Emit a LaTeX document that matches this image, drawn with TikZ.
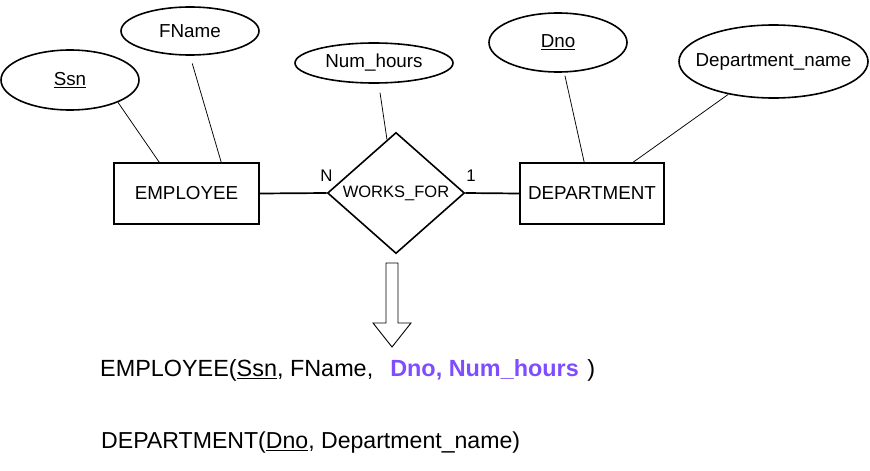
\documentclass[tikz,border=0pt]{standalone}
\usepackage{fontspec}
\setmainfont{Liberation Sans}
\usetikzlibrary{shapes.geometric,calc}
\definecolor{hl}{HTML}{7F4DFF}
\newcommand\nowd[1]{\makebox[0pt]{#1}}
\tikzset{
  lbl/.style={font=\fontsize{18.8}{22}\selectfont, inner sep=0pt},
  attrib/.style={draw, ellipse, line width=1.6pt, lbl},
  entity/.style={draw, rectangle, line width=1.6pt, lbl, minimum width=145pt, minimum height=61pt},
  relship/.style={draw, diamond, line width=1.6pt, inner sep=0pt, font=\fontsize{16.5}{19}\selectfont, minimum width=137pt, minimum height=120pt},
  attrline/.style={line width=0.75pt},
  relline/.style={line width=1.7pt},
  card/.style={font=\fontsize{16.8}{19}\selectfont, inner sep=0pt},
  schema/.style={font=\fontsize{23.4}{27}\selectfont, inner sep=0pt, anchor=base west}
}
\begin{document}
\begin{tikzpicture}[x=1pt,y=-1pt]
\useasboundingbox (0,0) rectangle (870,471);
% attributes
\node[attrib, minimum width=138pt, minimum height=60pt] (ssn) at (70,80) {\nowd{\underline{Ssn}}};
\node[attrib, minimum width=138pt, minimum height=48pt] (fname) at (190,31) {\nowd{FName}};
\node[attrib, minimum width=158pt, minimum height=40pt] (numh) at (374,63) {\nowd{Num\_hours}};
\node[attrib, minimum width=138pt, minimum height=59pt] (dno) at (558,42.5) {\nowd{\underline{Dno}}};
\node[attrib, minimum width=189pt, minimum height=73pt] (dname) at (773.5,61.5) {\nowd{Department\_name}};
% entities and relationship
\node[entity] (emp) at (186.5,193.5) {EMPLOYEE};
\node[entity, minimum width=144pt] (dept) at (592,193.5) {DEPARTMENT};
\node[relship] (wf) at (396,193) {WORKS\_FOR};
% attribute connectors
\draw[attrline] (ssn.-25) -- ([xshift=46pt]emp.north west);
\draw[attrline, shorten <=8pt] (fname.south) -- ([xshift=108pt]emp.north west);
\draw[attrline, shorten <=9pt] ($(numh.south)+(4.7,0)$) -- ($(wf.north)!0.13!(wf.west)$);
\draw[attrline, shorten <=3pt] ($(dno.south)+(6.3,0)$) -- ([xshift=65pt]dept.north west);
\draw[attrline] (dname.216) -- ([xshift=114pt]dept.north west);
% relationship connectors
\draw[relline] (emp.east) -- (wf.west);
\draw[relline] (wf.east) -- (dept.west);
\node[card] (cn) at (326.5,176) {N};
\node[card] (c1) at (471,176) {1};
% hollow arrow
\draw[line width=0.9pt, line join=miter]
  (386,263) -- (398,263) -- (398,323) -- (411,323) -- (392,347) -- (373,323) -- (386,323) -- cycle;
% relational schema
\node[schema] (s1) at (100,376.5) {EMPLOYEE(\underline{Ssn}, FName,\ \ \hspace{4pt}\textcolor{hl}{\bfseries Dno, Num\_hours}\hspace{2pt} )};
\node[schema, font=\fontsize{23.1}{27}\selectfont] (s2) at (101,448.5) {DEPARTMENT(\underline{Dno}, Department\_name)};
\end{tikzpicture}
\end{document}
